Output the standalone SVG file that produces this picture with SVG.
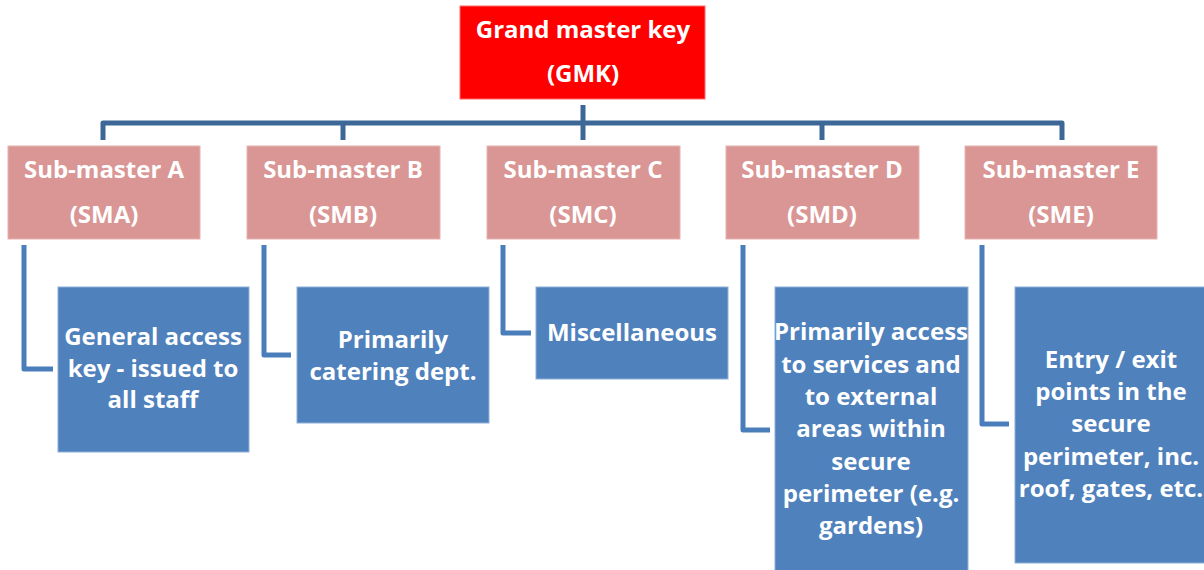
<svg xmlns="http://www.w3.org/2000/svg" width="1204" height="570" viewBox="0 0 1204 570">
<style>
.t{font-family:"Open Sans","Liberation Sans",sans-serif;font-weight:bold;font-size:24px;fill:#fff;text-anchor:middle}
.gmk{fill:#FF0000;stroke:#ff6a6a;stroke-width:1}
.sm{fill:#D99694;stroke:#e6b4b2;stroke-width:1}
.ch{fill:#4F81BD;stroke:#8fb0d8;stroke-width:1}
.bar{fill:none;stroke:#3C6797;stroke-width:5;stroke-linejoin:round}
.lk{fill:none;stroke:#4A7EBB;stroke-width:5;stroke-linejoin:round}
</style>
<g id="connectors">
<path class="bar" d="M583 105V140M103 140V123H1062V140M343 123V140M822 123V140"/>
<path class="lk" d="M24 245V369H53"/>
<path class="lk" d="M264 245V355H291"/>
<path class="lk" d="M503 245V333H531"/>
<path class="lk" d="M743 245V430H770"/>
<path class="lk" d="M982 245V424H1009"/>
</g>
<g id="gmk"><rect class="gmk" x="460" y="6" width="245" height="93"/>
<text class="t" x="583" y="38">Grand master key</text><text class="t" x="583" y="82">(GMK)</text></g>
<g id="sma"><rect class="sm" x="8" y="146" width="192" height="93"/>
<text class="t" x="104" y="178">Sub-master A</text><text class="t" x="104" y="223">(SMA)</text></g>
<g id="smb"><rect class="sm" x="247" y="146" width="193" height="93"/>
<text class="t" x="343" y="178">Sub-master B</text><text class="t" x="343" y="223">(SMB)</text></g>
<g id="smc"><rect class="sm" x="487" y="146" width="193" height="93"/>
<text class="t" x="583" y="178">Sub-master C</text><text class="t" x="583" y="223">(SMC)</text></g>
<g id="smd"><rect class="sm" x="726" y="146" width="193" height="93"/>
<text class="t" x="822" y="178">Sub-master D</text><text class="t" x="822" y="223">(SMD)</text></g>
<g id="sme"><rect class="sm" x="965" y="146" width="192" height="93"/>
<text class="t" x="1061" y="178">Sub-master E</text><text class="t" x="1061" y="223">(SME)</text></g>
<g id="ca"><rect class="ch" x="58" y="287" width="191" height="165"/>
<text class="t" x="153" y="345">General access</text><text class="t" x="153" y="377">key - issued to</text><text class="t" x="153" y="408">all staff</text></g>
<g id="cb"><rect class="ch" x="297" y="287" width="192" height="136"/>
<text class="t" x="393" y="348">Primarily</text><text class="t" x="393" y="380">catering dept.</text></g>
<g id="cc"><rect class="ch" x="536" y="287" width="192" height="92"/>
<text class="t" x="632" y="341">Miscellaneous</text></g>
<g id="cd"><rect class="ch" x="775" y="287" width="193" height="290"/>
<text class="t" x="871" y="340">Primarily access</text><text class="t" x="871" y="373">to services and</text><text class="t" x="871" y="405">to external</text><text class="t" x="871" y="437">areas within</text><text class="t" x="871" y="470">secure</text><text class="t" x="871" y="502">perimeter (e.g.</text><text class="t" x="871" y="534">gardens)</text></g>
<g id="ce"><rect class="ch" x="1015" y="287" width="193" height="276"/>
<text class="t" x="1111" y="368">Entry / exit</text><text class="t" x="1111" y="400">points in the</text><text class="t" x="1111" y="432">secure</text><text class="t" x="1111" y="465">perimeter, inc.</text><text class="t" x="1111" y="497">roof, gates, etc.</text></g>
</svg>
